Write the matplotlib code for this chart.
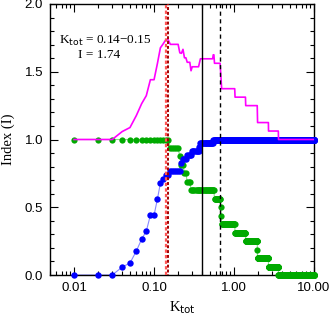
import numpy as np
import matplotlib
matplotlib.use("Agg")
import matplotlib.pyplot as plt
from matplotlib.ticker import FixedLocator, NullFormatter

# ---- data ----
# K_tot grid (0.01 steps from 0.01 to 10)
k_tot = np.round(np.arange(1, 1001) * 0.01, 2)

# green series: fraction of 16, given as (K_tot start, count)
green_start = [0.01, 0.16, 0.21, 0.22, 0.24, 0.26, 0.29, 0.57, 0.68, 0.69, 0.70, 1.03, 1.40, 1.96, 1.97, 2.70, 3.59]
green_count = [16, 15, 14, 13, 12, 11, 10, 9, 8, 7, 6, 5, 4, 3, 2, 1, 0]
green_total = 16

# blue series: fraction of 34, given as (K_tot start, count)
blue_start = [0.01, 0.04, 0.05, 0.06, 0.07, 0.08, 0.09, 0.11, 0.12, 0.13, 0.14, 0.16, 0.22, 0.23, 0.26, 0.30, 0.37, 0.38, 0.55]
blue_count = [0, 2, 3, 6, 9, 11, 15, 19, 23, 24, 25, 26, 28, 29, 30, 31, 32, 33, 34]
blue_total = 34

x_ticks = [0.01, 0.1, 1.0, 10.0]
x_tick_labels = ["0.01", "0.10", "1.00", "10.00"]
y_ticks = [0.0, 0.5, 1.0, 1.5, 2.0]
y_tick_labels = ["0.0", "0.5", "1.0", "1.5", "2.0"]

k_best = [0.14, 0.15]
k_solid = 0.40
k_dashed = 0.67
annot_k = "0.14\u22120.15"
annot_i = "1.74"


def steps(starts, counts, total):
    idx = np.searchsorted(np.array(starts), k_tot + 1e-9, side="right") - 1
    return np.array(counts)[idx] / total


green = steps(green_start, green_count, green_total)
blue = steps(blue_start, blue_count, blue_total)
index_I = green + blue

# ---- figure ----
W, H = 332, 316
fig = plt.figure(figsize=(W / 100, H / 100), dpi=100)
ax = fig.add_axes([50 / W, 1 - 275 / H, (314 - 50) / W, (275 - 4) / H])

serif = "Liberation Serif"
sans = "Liberation Sans"

ax.plot(k_tot, green, color="#88dd88", lw=0.8, zorder=2)
ax.plot(k_tot, green, "o", color="#00aa00", ms=4.5, mew=0, zorder=3, clip_on=False)
ax.plot(k_tot, blue, color="#8888ff", lw=0.8, zorder=2)
ax.plot(k_tot, blue, "o", color="#0000ff", ms=4.6, mew=0, zorder=3, clip_on=False)
ax.plot(k_tot, index_I, color="#ff00ff", lw=1.2, zorder=4)

ax.axvline(k_best[0], color="#ff5555", lw=1.6, ls=(0, (1.5, 1.0)), zorder=5)
ax.axvline(k_best[1], color="#a00000", lw=1.4, ls=(1.2, (1.5, 1.0)), zorder=5)
ax.axvline(k_solid, color="black", lw=1.0, zorder=5)
ax.axvline(k_dashed, color="black", lw=1.0, ls=(0, (3, 2.5)), zorder=5)

ax.set_xscale("log")
ax.set_xlim(0.005, 10)
ax.set_ylim(0, 2)

ax.xaxis.set_major_locator(FixedLocator(x_ticks))
ax.set_xticklabels(x_tick_labels)
minor = [m * d for d in [0.001, 0.01, 0.1, 1.0] for m in range(2, 10) if 0.005 <= m * d <= 10]
ax.xaxis.set_minor_locator(FixedLocator(minor))
ax.xaxis.set_minor_formatter(NullFormatter())
ax.yaxis.set_major_locator(FixedLocator(y_ticks))
ax.set_yticklabels(y_tick_labels)
ax.yaxis.set_minor_locator(FixedLocator([v / 10 for v in range(0, 21)]))

ax.tick_params(which="both", direction="in", top=True, right=True, width=0.8)
ax.tick_params(which="major", length=6, labelsize=9.5, pad=5)
ax.tick_params(which="minor", length=3)
for lab in ax.get_xticklabels() + ax.get_yticklabels():
    lab.set_fontfamily(sans)
for s in ax.spines.values():
    s.set_linewidth(1.0)

ax.set_xlabel(r"K$_{\rm tot}$", fontfamily=serif, fontsize=10.5, labelpad=4)
ax.set_ylabel("Index (I)", fontfamily=serif, fontsize=10.5, labelpad=7)

ax.text(0.0064, 1.73, r"K$_{\rm tot}$ = " + annot_k, fontfamily=serif, fontsize=9.5,
        va="center", ha="left", zorder=6)
ax.text(0.0113, 1.625, "I = " + annot_i, fontfamily=serif, fontsize=9.5,
        va="center", ha="left", zorder=6)

fig.savefig("out.png", dpi=100)
